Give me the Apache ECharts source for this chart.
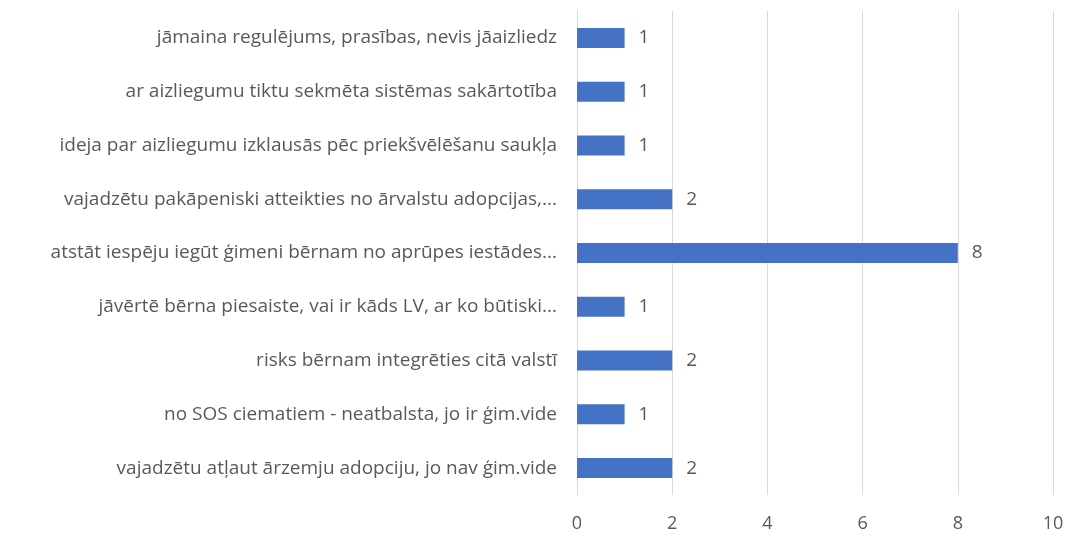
<!DOCTYPE html>
<html>
<head>
<meta charset="utf-8">
<script src="https://cdn.jsdelivr.net/npm/echarts@6/dist/echarts.min.js"></script>
<style>
  html, body { margin: 0; padding: 0; background: #fff; }
  #main { width: 1068px; height: 540px; }
</style>
</head>
<body>
<div id="main"></div>
<script>
// categories, listed top to bottom as they appear
var categories = [
  'jāmaina regulējums, prasības, nevis jāaizliedz',
  'ar aizliegumu tiktu sekmēta sistēmas sakārtotība',
  'ideja par aizliegumu izklausās pēc priekšvēlēšanu saukļa',
  'vajadzētu pakāpeniski atteikties no ārvalstu adopcijas,...',
  'atstāt iespēju iegūt ģimeni bērnam no aprūpes iestādes...',
  'jāvērtē bērna piesaiste, vai ir kāds LV, ar ko būtiski...',
  'risks bērnam integrēties citā valstī',
  'no SOS ciematiem - neatbalsta, jo ir ģim.vide',
  'vajadzētu atļaut ārzemju adopciju, jo nav ģim.vide'
]
var values = [1, 1, 1, 2, 8, 1, 2, 1, 2]
var xTicks = [0, 2, 4, 6, 8, 10]

var textColor = '#595959'
var fontName = 'Open Sans'

var chart = echarts.init(document.getElementById('main'))
chart.setOption({
  animation: false,
  grid: { left: 577, right: 15, top: 11, bottom: 45 },
  xAxis: {
    type: 'value',
    min: xTicks[0],
    max: xTicks[xTicks.length - 1],
    interval: 2,
    axisLine: { show: false },
    axisTick: { show: false },
    axisLabel: { color: textColor, fontSize: 18, fontFamily: fontName, margin: 20 },
    splitLine: { lineStyle: { color: '#d9d9d9', width: 1 } }
  },
  yAxis: {
    type: 'category',
    inverse: true,
    data: categories,
    axisLine: { lineStyle: { color: '#d9d9d9' } },
    axisTick: { show: false },
    axisLabel: { color: textColor, fontSize: 19, fontFamily: fontName, margin: 20 }
  },
  series: [{
    type: 'bar',
    data: values,
    barWidth: 20,
    itemStyle: { color: '#4472c4' },
    label: {
      show: true,
      position: 'right',
      distance: 14,
      color: textColor,
      fontSize: 19,
      fontFamily: fontName
    }
  }]
})
</script>
</body>
</html>
